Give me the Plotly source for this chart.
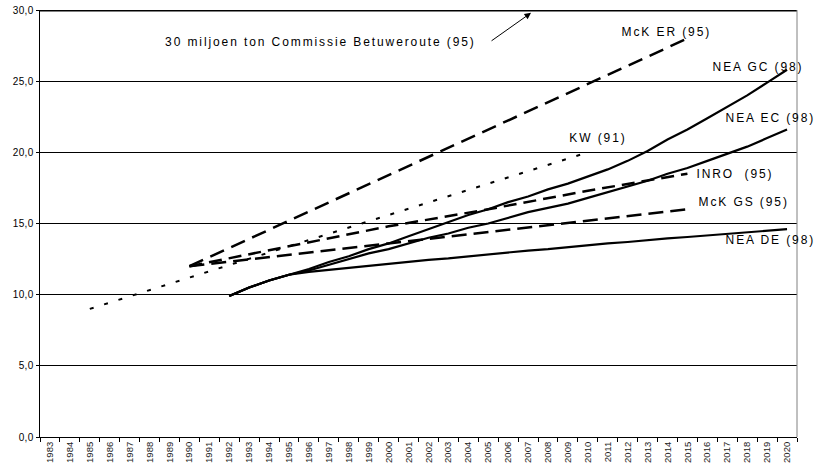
import plotly.graph_objects as go

years = [str(y) for y in range(1983, 2021)]

# KW (91) - dotted
kw_years = ["1985", "2010"]
kw_vals = [9.0, 20.0]

# McK ER (95)
mcker_years = ["1990", "2015"]
mcker_vals = [12.0, 28.0]

# INRO (95)
inro_years = ["1990", "1995", "2000", "2005", "2010", "2015"]
inro_vals = [12.0, 13.4, 14.8, 16.0, 17.3, 18.5]

# McK GS (95)
mckgs_years = ["1990", "2015"]
mckgs_vals = [12.0, 16.0]

# NEA series (98)
nea_years = [str(y) for y in range(1992, 2021)]
nea_gc = [9.9, 10.5, 11.0, 11.4, 11.8, 12.3, 12.7, 13.2, 13.6, 14.1, 14.6, 15.1, 15.6, 16.0,
          16.5, 16.9, 17.4, 17.8, 18.3, 18.8, 19.4, 20.1, 20.9, 21.6, 22.4, 23.2, 24.0, 24.9, 25.8]
nea_ec = [9.9, 10.5, 11.0, 11.4, 11.7, 12.1, 12.5, 12.9, 13.2, 13.6, 14.0, 14.3, 14.7, 15.0,
          15.4, 15.8, 16.1, 16.4, 16.8, 17.2, 17.6, 18.0, 18.5, 18.9, 19.4, 19.9, 20.4, 21.0, 21.6]
nea_de = [9.9, 10.5, 11.0, 11.4, 11.6, 11.75, 11.9, 12.05, 12.2, 12.3, 12.45, 12.55, 12.7, 12.8,
          12.95, 13.1, 13.2, 13.35, 13.5, 13.6, 13.7, 13.85, 13.95, 14.05, 14.15, 14.25, 14.35, 14.5, 14.6]

target_value = 30.0

labels = [
    ("30 miljoen ton Commissie Betuweroute (95)", 13.6, 27.73),
    ("McK ER (95)", 30.96, 28.43),
    ("NEA GC (98)", 35.52, 26.0),
    ("NEA EC (98)", 36.17, 22.42),
    ("KW (91)", 27.53, 21.01),
    ("INRO  (95)", 34.41, 18.45),
    ("McK GS (95)", 34.79, 16.51),
    ("NEA DE (98)", 36.16, 13.81),
]

fig = go.Figure()

def add(x, y, dash, width, name):
    fig.add_trace(go.Scatter(x=x, y=y, mode="lines", name=name,
                             line=dict(color="black", width=width, dash=dash),
                             showlegend=False, cliponaxis=False))

add(kw_years, kw_vals, "4px,11px", 2, "KW (91)")
add(mcker_years, mcker_vals, "15px,8px", 2.5, "McK ER (95)")
add(inro_years, inro_vals, "13px,7px", 2.5, "INRO (95)")
add(mckgs_years, mckgs_vals, "15px,7px", 2.5, "McK GS (95)")
add(nea_years, nea_de, "solid", 2.2, "NEA DE (98)")
add(nea_years, nea_ec, "solid", 2.2, "NEA EC (98)")
add(nea_years, nea_gc, "solid", 2.2, "NEA GC (98)")

# 30 miljoen ton line
fig.add_shape(type="line", xref="paper", x0=0, x1=1, yref="y", y0=target_value, y1=target_value,
              line=dict(color="black", width=3))
# right border
fig.add_shape(type="line", xref="paper", x0=1, x1=1, yref="paper", y0=0, y1=1,
              line=dict(color="#808080", width=1))

for txt, x, y in labels:
    fig.add_annotation(x=x, y=y, xref="x", yref="y", text=txt, showarrow=False,
                       font=dict(family="Liberation Sans, Arial", size=12, color="black"),
                       xanchor="center", yanchor="middle")

fig.add_annotation(x=24.15, y=29.8, xref="x", yref="y", text="", showarrow=True,
                   ax=-41, ay=29, arrowhead=2, arrowsize=1.3, arrowwidth=1, arrowcolor="black")

fig.update_layout(
    width=823, height=465,
    margin=dict(l=40, r=26, t=10, b=28),
    paper_bgcolor="white", plot_bgcolor="white",
    separators=",.",
    font=dict(family="Liberation Sans, Arial", color="black"),
)
fig.update_xaxes(type="category", categoryorder="array", categoryarray=years,
                 range=[-0.5, 37.5], tickmode="array", tickvals=years, ticktext=years,
                 tickangle=-90, tickfont=dict(size=9.5, color="#222222"), ticks="outside", ticklen=4,
                 tickson="boundaries", tickcolor="black", showline=True, linecolor="black",
                 linewidth=1, showgrid=False, automargin=False, fixedrange=True)
fig.update_yaxes(range=[0, 30], tickvals=[0, 5, 10, 15, 20, 25, 30], tickformat=".1f",
                 tickfont=dict(size=10), ticks="outside", ticklen=3, tickcolor="black",
                 showline=True, linecolor="black", linewidth=1.5, showgrid=True,
                 gridcolor="black", gridwidth=1, zeroline=False, automargin=False)

post = """
document.body.style.margin = '0';
document.body.style.padding = '0';
var els = document.querySelectorAll('g.annotation-text-g text');
els.forEach(function(e){ e.style.letterSpacing = '1.9px'; });
var yt = document.querySelectorAll('g.ytick text');
yt.forEach(function(e){ e.style.letterSpacing = '0.3px'; });
"""
fig.write_html("out.html", post_script=post, config={"displayModeBar": False, "staticPlot": True})
